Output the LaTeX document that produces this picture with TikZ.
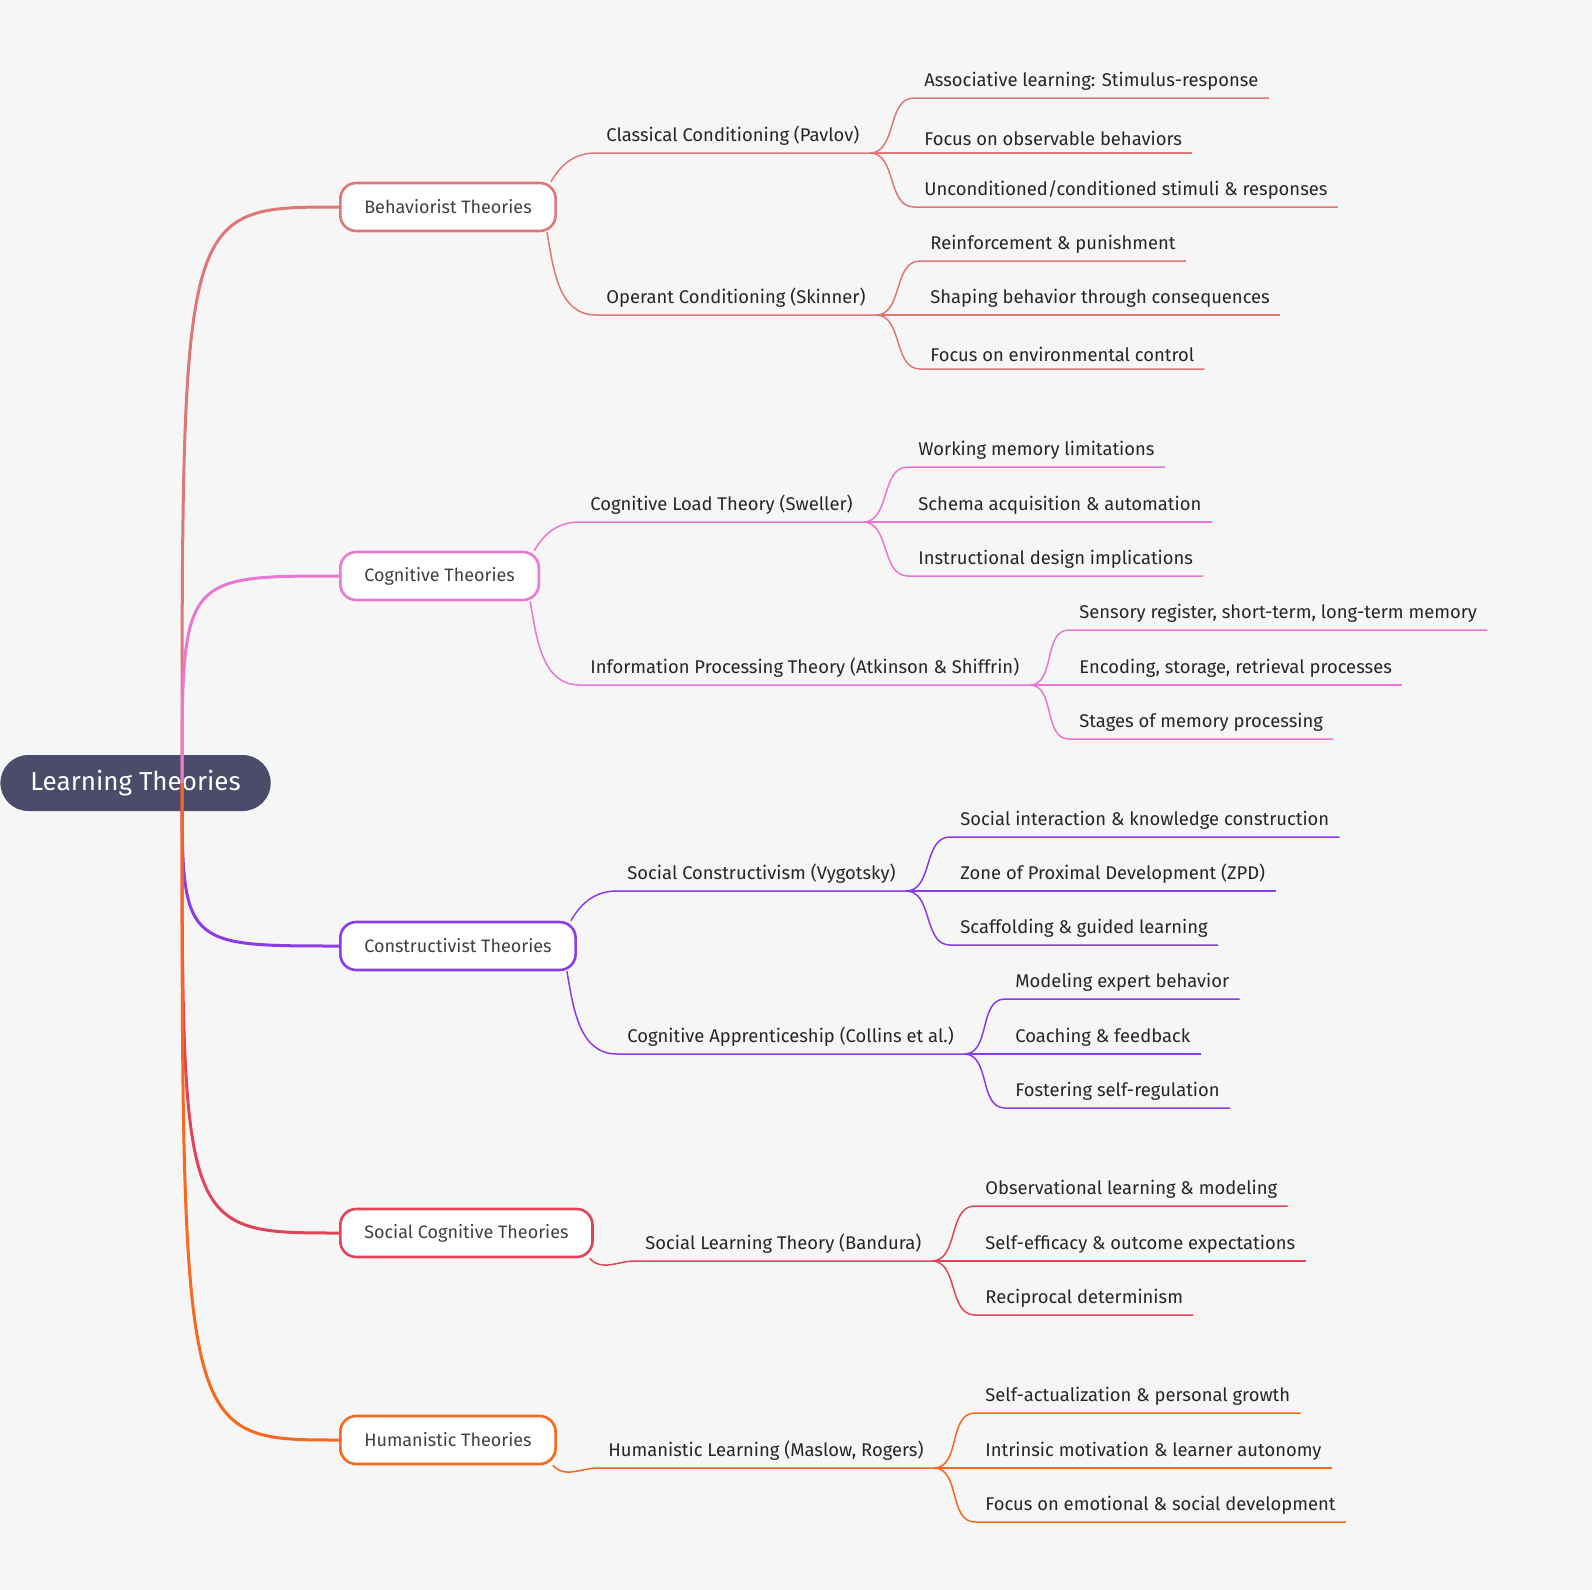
\documentclass[tikz,border=0pt]{standalone}
\usepackage{fontspec}
\setmainfont{Fira Sans}
\usetikzlibrary{calc}
\definecolor{bg}{HTML}{F6F6F6}
\definecolor{rootc}{HTML}{4A4C6A}
\definecolor{cbeh}{HTML}{DE7878}
\definecolor{ccog}{HTML}{E878D2}
\definecolor{ccon}{HTML}{8A3CE8}
\definecolor{csoc}{HTML}{E0445A}
\definecolor{chum}{HTML}{F8681E}
\tikzset{
  rootbox/.style={rounded corners=14pt,fill=rootc,text=white,font=\fontsize{13}{15}\selectfont,minimum height=28pt,inner xsep=15pt},
  theorybox/.style={rounded corners=8pt,draw,line width=1.3pt,fill=white,text=black!75,font=\fontsize{9}{11}\selectfont,minimum height=24pt,inner xsep=12pt,anchor=west},
  lbl/.style={anchor=south west,inner xsep=5pt,inner ysep=3.5pt,text=black!85,font=\fontsize{9.2}{11}\selectfont},
  trunk/.style={line width=1.5pt},
  twig/.style={line width=0.75pt},
}
\newcommand{\branch}[4]{% parent, child, colour, out angle
  \draw[twig,#3] (#1) to[out=#4,in=180] (#2.south west) -- (#2.south east);}
\begin{document}
\begin{tikzpicture}[x=0.5pt,y=-0.5pt]
\fill[bg] (0,0) rectangle (1592,1590);
\useasboundingbox (0,0) rectangle (1592,1590);

%% root
\node[rootbox,anchor=west] (root) at (0,783) {Learning Theories};
\coordinate (hub) at (182,783);

%% first level
\node[theorybox,draw=cbeh] (beh) at (339,207) {Behaviorist Theories};
\node[theorybox,draw=ccog] (cog) at (339,576) {Cognitive Theories};
\node[theorybox,draw=ccon] (con) at (339,946) {Constructivist Theories};
\node[theorybox,draw=csoc] (soc) at (339,1233) {Social Cognitive Theories};
\node[theorybox,draw=chum] (hum) at (339,1440) {Humanistic Theories};
\foreach \t/\c in {beh/cbeh,cog/ccog,con/ccon,soc/csoc,hum/chum}
  {\draw[trunk,\c] (hub) .. controls (hub|-\t.west) .. (\t.west);}

%% behaviorist
\node[lbl] (pav) at (596,153) {Classical Conditioning (Pavlov)};
\node[lbl] (skn) at (596,315) {Operant Conditioning (Skinner)};
\branch{$(beh.north east)+(-6,0)$}{pav}{cbeh}{60}
\branch{$(beh.south east)+(-10,0)$}{skn}{cbeh}{-80}
\node[lbl] (pav1) at (914,98) {Associative learning: Stimulus-response};
\node[lbl] (pav2) at (914,153) {Focus on observable behaviors};
\node[lbl] (pav3) at (914,207) {Unconditioned/conditioned stimuli \& responses};
\foreach \n in {pav1,pav2,pav3} {\branch{pav.south east}{\n}{cbeh}{0}}
\node[lbl] (skn1) at (920,261) {Reinforcement \& punishment};
\node[lbl] (skn2) at (920,315) {Shaping behavior through consequences};
\node[lbl] (skn3) at (920,369) {Focus on environmental control};
\foreach \n in {skn1,skn2,skn3} {\branch{skn.south east}{\n}{cbeh}{0}}

%% cognitive
\node[lbl] (swl) at (580,522) {Cognitive Load Theory (Sweller)};
\node[lbl] (atk) at (580,685) {Information Processing Theory (Atkinson \& Shiffrin)};
\branch{$(cog.north east)+(-6,0)$}{swl}{ccog}{60}
\branch{$(cog.south east)+(-10,0)$}{atk}{ccog}{-80}
\node[lbl] (swl1) at (908,467) {Working memory limitations};
\node[lbl] (swl2) at (908,522) {Schema acquisition \& automation};
\node[lbl] (swl3) at (908,576) {Instructional design implications};
\foreach \n in {swl1,swl2,swl3} {\branch{swl.south east}{\n}{ccog}{0}}
\node[lbl] (atk1) at (1069,630) {Sensory register, short-term, long-term memory};
\node[lbl] (atk2) at (1069,685) {Encoding, storage, retrieval processes};
\node[lbl] (atk3) at (1069,739) {Stages of memory processing};
\foreach \n in {atk1,atk2,atk3} {\branch{atk.south east}{\n}{ccog}{0}}

%% constructivist
\node[lbl] (vyg) at (617,891) {Social Constructivism (Vygotsky)};
\node[lbl] (col) at (617,1054) {Cognitive Apprenticeship (Collins et al.)};
\branch{$(con.north east)+(-6,0)$}{vyg}{ccon}{60}
\branch{$(con.south east)+(-10,0)$}{col}{ccon}{-80}
\node[lbl] (vyg1) at (950,837) {Social interaction \& knowledge construction};
\node[lbl] (vyg2) at (950,891) {Zone of Proximal Development (ZPD)};
\node[lbl] (vyg3) at (950,945) {Scaffolding \& guided learning};
\foreach \n in {vyg1,vyg2,vyg3} {\branch{vyg.south east}{\n}{ccon}{0}}
\node[lbl] (col1) at (1005,999) {Modeling expert behavior};
\node[lbl] (col2) at (1005,1054) {Coaching \& feedback};
\node[lbl] (col3) at (1005,1108) {Fostering self-regulation};
\foreach \n in {col1,col2,col3} {\branch{col.south east}{\n}{ccon}{0}}

%% social cognitive
\node[lbl] (ban) at (635,1261) {Social Learning Theory (Bandura)};
\branch{$(soc.south east)+(-4,0)$}{ban}{csoc}{-50}
\node[lbl] (ban1) at (975,1206) {Observational learning \& modeling};
\node[lbl] (ban2) at (975,1261) {Self-efficacy \& outcome expectations};
\node[lbl] (ban3) at (975,1315) {Reciprocal determinism};
\foreach \n in {ban1,ban2,ban3} {\branch{ban.south east}{\n}{csoc}{0}}

%% humanistic
\node[lbl] (mas) at (598,1468) {Humanistic Learning (Maslow, Rogers)};
\branch{$(hum.south east)+(-4,0)$}{mas}{chum}{-50}
\node[lbl] (mas1) at (975,1413) {Self-actualization \& personal growth};
\node[lbl] (mas2) at (975,1468) {Intrinsic motivation \& learner autonomy};
\node[lbl] (mas3) at (975,1522) {Focus on emotional \& social development};
\foreach \n in {mas1,mas2,mas3} {\branch{mas.south east}{\n}{chum}{0}}
\end{tikzpicture}
\end{document}
